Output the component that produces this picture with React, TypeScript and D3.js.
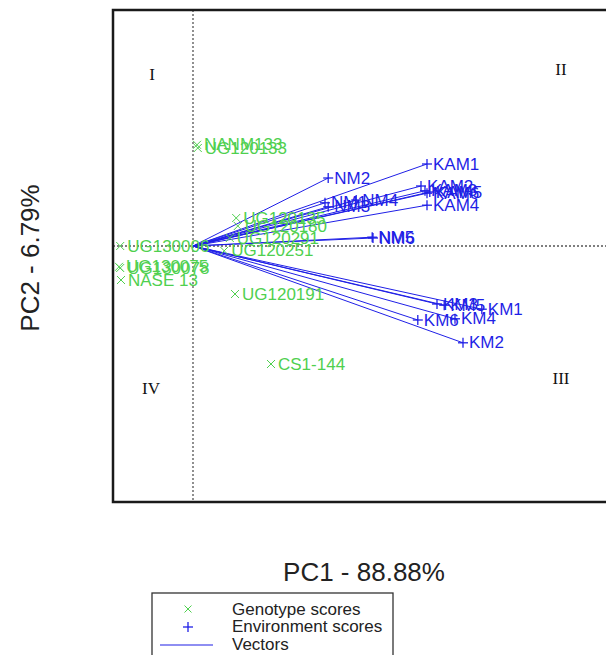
import React from "react";
import * as d3 from "d3";

const genotypeNames = ["NANM133", "UG120133", "UG120135", "UG120180", "UG120291", "UG120251", "UG130006", "UG130075", "UG130078", "NASE 13", "UG120191", "CS1-144"];
const genotypePC1 = [0.10, 0.12, 1.08, 1.12, 0.92, 0.78, -1.82, -1.85, -1.82, -1.80, 1.05, 1.95];
const genotypePC2 = [2.53, 2.45, 0.70, 0.50, 0.20, -0.12, 0.0, -0.52, -0.55, -0.85, -1.20, -2.95];

const envNames = ["KAM1", "NM2", "KAM2", "KAM3", "KAM5", "KAM6", "KAM4", "NM1", "NM4", "NM3", "NM5", "NM6", "KM3", "KM5", "KM1", "KM6", "KM4", "KM2"];
const envPC1 = [5.85, 3.38, 5.70, 5.80, 5.92, 5.85, 5.85, 3.30, 4.08, 3.38, 4.48, 4.50, 6.10, 6.28, 7.22, 5.62, 6.55, 6.75];
const envPC2 = [2.05, 1.70, 1.50, 1.38, 1.35, 1.32, 1.02, 1.08, 1.15, 0.98, 0.22, 0.20, -1.45, -1.48, -1.58, -1.85, -1.82, -2.42];

const quadrantLabels = ["I", "II", "III", "IV"];
const quadrantPos = [[-1.02, 4.25], [9.2, 4.37], [9.2, -3.35], [-1.05, -3.6]];

const xTitle = "PC1 - 88.88%";
const yTitle = "PC2 - 6.79%";
const legendItems = ["Genotype scores", "Environment scores", "Vectors"];

const GREEN = "#4fd04f";
const BLUE = "#1f1fe6";

export default function App() {
  const left = 113, top = 10, bottom = 502, right = 620;
  const x = d3.scaleLinear().domain([-2, 10.675]).range([left, right]);
  const y = d3.scaleLinear().domain([-6.4, 5.9]).range([bottom, top]);
  const ox = x(0), oy = y(0);
  const font = "'Liberation Sans', Arial, sans-serif";

  const cross = (cx: number, cy: number, s: number, color: string, key: string) => (
    <g key={key} stroke={color} strokeWidth={1}>
      <line x1={cx - s} y1={cy - s} x2={cx + s} y2={cy + s} />
      <line x1={cx - s} y1={cy + s} x2={cx + s} y2={cy - s} />
    </g>
  );
  const plus = (cx: number, cy: number, s: number, color: string, key: string) => (
    <g key={key} stroke={color} strokeWidth={1.3}>
      <line x1={cx - s} y1={cy} x2={cx + s} y2={cy} />
      <line x1={cx} y1={cy - s} x2={cx} y2={cy + s} />
    </g>
  );

  return (
    <svg width={606} height={655} style={{ position: "absolute", left: 0, top: 0, background: "#fff" }}>
      <rect width={606} height={655} fill="#fff" />
      {/* dotted reference lines */}
      <line x1={ox} y1={top} x2={ox} y2={bottom} stroke="#555" strokeWidth={1.3} strokeDasharray="2,2" />
      <line x1={left} y1={oy} x2={right} y2={oy} stroke="#555" strokeWidth={1.3} strokeDasharray="2,2" />
      {/* frame */}
      <rect x={left} y={top} width={right - left + 30} height={bottom - top} fill="none" stroke="#1a1a1a" strokeWidth={2.5} />

      {/* quadrant labels */}
      {quadrantLabels.map((q, i) => (
        <text key={q} x={x(quadrantPos[i][0])} y={y(quadrantPos[i][1])} fontFamily="'Liberation Serif', 'Times New Roman', serif" fontSize={17} textAnchor="middle" dominantBaseline="middle" fill="#111">{q}</text>
      ))}

      {/* vectors */}
      {envNames.map((n, i) => (
        <line key={"v" + n} x1={ox} y1={oy} x2={x(envPC1[i])} y2={y(envPC2[i])} stroke={BLUE} strokeWidth={1} />
      ))}

      {/* genotypes */}
      {genotypeNames.map((n, i) => {
        const cx = x(genotypePC1[i]), cy = y(genotypePC2[i]);
        return (
          <g key={"g" + n}>
            {cross(cx, cy, 4, GREEN, "c" + n)}
            <text x={cx + 7} y={cy} dominantBaseline="central" fontFamily={font} fontSize={17} fill={GREEN}>{n}</text>
          </g>
        );
      })}

      {/* environments */}
      {envNames.map((n, i) => {
        const cx = x(envPC1[i]), cy = y(envPC2[i]);
        return (
          <g key={"e" + n}>
            {plus(cx, cy, 5, BLUE, "p" + n)}
            <text x={cx + 6} y={cy} dominantBaseline="central" fontFamily={font} fontSize={17} fill={BLUE}>{n}</text>
          </g>
        );
      })}

      {/* axis titles */}
      <text x={364} y={572} textAnchor="middle" dominantBaseline="central" fontFamily={font} fontSize={26} fill="#222">{xTitle}</text>
      <text transform="translate(30,258) rotate(-90)" textAnchor="middle" dominantBaseline="central" fontFamily={font} fontSize={26} fill="#222">{yTitle}</text>

      {/* legend */}
      <rect x={152} y={593} width={241} height={80} fill="#fff" stroke="#333" strokeWidth={1.3} />
      {cross(188, 609, 3.5, GREEN, "lg1")}
      {plus(188, 627, 5, BLUE, "lg2")}
      <line x1={160} y1={645} x2={213} y2={645} stroke={BLUE} strokeWidth={1.2} />
      {legendItems.map((t, i) => (
        <text key={t} x={232} y={609 + i * 17.5} dominantBaseline="central" fontFamily={font} fontSize={17} fill="#222">{t}</text>
      ))}
    </svg>
  );
}
